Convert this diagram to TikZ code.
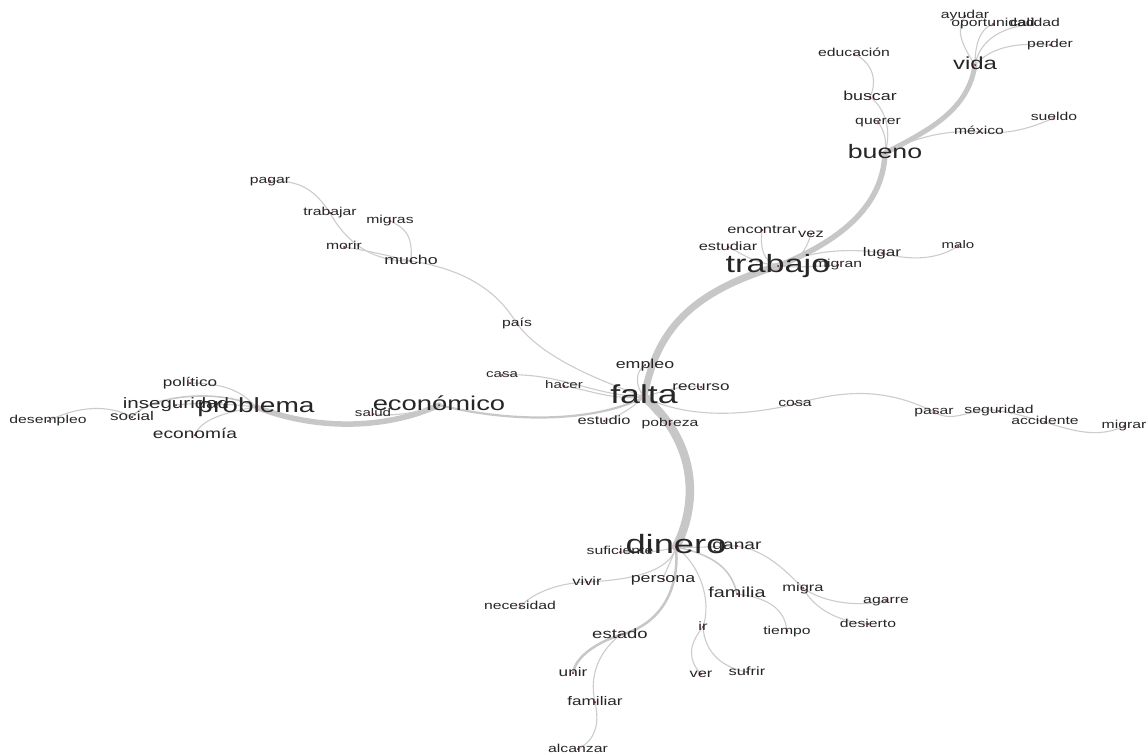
\documentclass[tikz,border=0pt]{standalone}
\usepackage{fontspec}
\setmainfont{Liberation Sans}
\pgfdeclarelayer{background}
\pgfsetlayers{background,main}
\newcommand\hs[1]{\scalebox{1.37}[1]{#1}}
\definecolor{dotred}{RGB}{120,10,10}
\tikzset{
  lbl/.style={anchor=center, inner sep=0pt, text height={0.52*#1}, text depth=0pt, text=black!85, font=\fontsize{#1}{#1}\selectfont},
  ed/.style={draw=black!20, line width=1.1pt, line cap=round},
  edw/.style={draw=black!22, line width=#1, line cap=round},
}
\begin{document}
\begin{tikzpicture}[x=1pt,y=-1pt]
\path[use as bounding box] (0,0) rectangle (1148,755);
% ---------- nodes ----------
\node[lbl=17.5] (vida) at (975,65) {\hs{vida}};
\node[lbl=11.5] (ayudar) at (965,16) {\hs{ayudar}};
\node[lbl=11.5] (oportunidad) at (993,24) {\hs{oportunidad}};
\node[lbl=11.5] (calidad) at (1035,24) {\hs{calidad}};
\node[lbl=11.5] (perder) at (1050,45) {\hs{perder}};
\node[lbl=11.5] (sueldo) at (1054,118) {\hs{sueldo}};
\node[lbl=11.5] (mexico) at (979,132) {\hs{méxico}};
\node[lbl=11.5] (educacion) at (854,54) {\hs{educación}};
\node[lbl=13] (buscar) at (870,97) {\hs{buscar}};
\node[lbl=11.5] (querer) at (878,122) {\hs{querer}};
\node[lbl=19.5] (bueno) at (885,153) {\hs{bueno}};
\node[lbl=12] (encontrar) at (762,230) {\hs{encontrar}};
\node[lbl=12] (vez) at (811,234) {\hs{vez}};
\node[lbl=12] (estudiar) at (728,247) {\hs{estudiar}};
\node[lbl=25] (trabajo) at (778,266) {\hs{trabajo}};
\node[lbl=11.5] (migran) at (838,265) {\hs{migran}};
\node[lbl=12.5] (lugar) at (882,253) {\hs{lugar}};
\node[lbl=11] (malo) at (958,246) {\hs{malo}};
\node[lbl=11.5] (pagar) at (270,181) {\hs{pagar}};
\node[lbl=11.5] (trabajar) at (330,213) {\hs{trabajar}};
\node[lbl=11.5] (migras) at (390,221) {\hs{migras}};
\node[lbl=11.5] (morir) at (344,247) {\hs{morir}};
\node[lbl=13] (mucho) at (411,261) {\hs{mucho}};
\node[lbl=11.5] (pais) at (517,324) {\hs{país}};
\node[lbl=13] (empleo) at (645,365) {\hs{empleo}};
\node[lbl=11] (casa) at (502,375) {\hs{casa}};
\node[lbl=11] (hacer) at (564,386) {\hs{hacer}};
\node[lbl=12.5] (recurso) at (701,387) {\hs{recurso}};
\node[lbl=26] (falta) at (644,397) {\hs{falta}};
\node[lbl=11.5] (cosa) at (795,404) {\hs{cosa}};
\node[lbl=11.5] (pasar) at (934,412) {\hs{pasar}};
\node[lbl=11.5] (seguridad) at (999,411) {\hs{seguridad}};
\node[lbl=11.5] (accidente) at (1045,422) {\hs{accidente}};
\node[lbl=11.5] (migrar) at (1124,426) {\hs{migrar}};
\node[lbl=12] (estudio) at (604,421) {\hs{estudio}};
\node[lbl=11.5] (pobreza) at (670,424) {\hs{pobreza}};
\node[lbl=20] (economico) at (439,405) {\hs{económico}};
\node[lbl=11] (salud) at (373,414) {\hs{salud}};
\node[lbl=20.5] (problema) at (256,407) {\hs{problema}};
\node[lbl=15] (inseguridad) at (176,405) {\hs{inseguridad}};
\node[lbl=12.5] (politico) at (190,383) {\hs{político}};
\node[lbl=12.5] (social) at (132,417) {\hs{social}};
\node[lbl=11.5] (desempleo) at (48,421) {\hs{desempleo}};
\node[lbl=14] (economia) at (195,435) {\hs{economía}};
\node[lbl=26.5] (dinero) at (676,547) {\hs{dinero}};
\node[lbl=11.5] (suficiente) at (620,552) {\hs{suficiente}};
\node[lbl=14] (ganar) at (737,546) {\hs{ganar}};
\node[lbl=12] (vivir) at (587,582) {\hs{vivir}};
\node[lbl=13] (persona) at (663,579) {\hs{persona}};
\node[lbl=11.5] (necesidad) at (520,607) {\hs{necesidad}};
\node[lbl=14.5] (familia) at (737,594) {\hs{familia}};
\node[lbl=12] (migra) at (803,588) {\hs{migra}};
\node[lbl=11.5] (agarre) at (886,601) {\hs{agarre}};
\node[lbl=11.5] (desierto) at (868,624) {\hs{desierto}};
\node[lbl=11.5] (tiempo) at (787,631) {\hs{tiempo}};
\node[lbl=12] (ir) at (703,627) {\hs{ir}};
\node[lbl=13.5] (estado) at (620,635) {\hs{estado}};
\node[lbl=12.5] (unir) at (573,673) {\hs{unir}};
\node[lbl=12] (ver) at (701,674) {\hs{ver}};
\node[lbl=12] (sufrir) at (747,672) {\hs{sufrir}};
\node[lbl=12.5] (familiar) at (595,702) {\hs{familiar}};
\node[lbl=11.5] (alcanzar) at (578,749) {\hs{alcanzar}};
% ---------- dots ----------
\foreach \n in {vida,ayudar,oportunidad,calidad,perder,sueldo,mexico,educacion,buscar,querer,bueno,encontrar,vez,estudiar,trabajo,migran,lugar,malo,pagar,trabajar,migras,morir,mucho,pais,empleo,casa,hacer,recurso,falta,cosa,pasar,seguridad,accidente,migrar,estudio,pobreza,economico,salud,problema,inseguridad,politico,social,desempleo,economia,dinero,suficiente,ganar,vivir,persona,necesidad,familia,migra,agarre,desierto,tiempo,ir,estado,unir,ver,sufrir,familiar,alcanzar}
  \fill[dotred] (\n.center) circle (1pt);
% ---------- edges ----------
\begin{pgfonlayer}{background}
\fill[white] (0,0) rectangle (1148,755);
% spine
\draw[edw=7pt] (falta.center) .. controls (655,340) and (680,295) .. (trabajo.center);
\draw[edw=5.5pt] (trabajo.center) .. controls (830,245) and (883,212) .. (bueno.center);
\draw[edw=5pt] (bueno.center) .. controls (930,130) and (968,110) .. (vida.center);
\draw[edw=8.5pt] (falta.center) .. controls (695,440) and (700,500) .. (dinero.center);
\draw[edw=2.2pt] (falta.center) .. controls (600,420) and (520,425) .. (economico.center);
\draw[edw=5.5pt] (economico.center) .. controls (390,428) and (320,432) .. (problema.center);
% problema
\draw[ed] (desempleo.center) .. controls (80,405) and (110,405) .. (social.center);
\draw[edw=1.6pt] (social.center) .. controls (150,395) and (220,388) .. (problema.center);
\draw[ed] (inseguridad.center) .. controls (200,402) and (230,404) .. (problema.center);
\draw[ed] (politico.center) .. controls (230,383) and (245,395) .. (problema.center);
\draw[ed] (economia.center) .. controls (200,420) and (225,412) .. (problema.center);
\draw[ed] (economico.center) .. controls (410,415) and (390,416) .. (salud.center);
% falta
\draw[ed] (falta.center) .. controls (600,380) and (545,360) .. (pais.center);
\draw[ed] (pais.center) .. controls (500,295) and (470,270) .. (mucho.center);
\draw[ed] (mucho.center) .. controls (370,262) and (345,240) .. (trabajar.center);
\draw[ed] (trabajar.center) .. controls (315,190) and (300,180) .. (pagar.center);
\draw[ed] (mucho.center) .. controls (385,255) and (365,250) .. (morir.center);
\draw[ed] (mucho.center) .. controls (413,235) and (405,228) .. (migras.center);
\draw[ed] (falta.center) .. controls (590,395) and (560,372) .. (casa.center);
\draw[ed] (falta.center) .. controls (610,400) and (590,390) .. (hacer.center);
\draw[ed] (falta.center) .. controls (635,385) and (635,372) .. (empleo.center);
\draw[ed] (falta.center) .. controls (660,392) and (680,385) .. (recurso.center);
\draw[ed] (falta.center) .. controls (690,420) and (750,415) .. (cosa.center);
\draw[ed] (cosa.center) .. controls (850,388) and (890,390) .. (pasar.center);
\draw[ed] (pasar.center) .. controls (955,425) and (975,405) .. (seguridad.center);
\draw[ed] (seguridad.center) .. controls (1015,413) and (1030,418) .. (accidente.center);
\draw[ed] (accidente.center) .. controls (1075,432) and (1100,438) .. (migrar.center);
\draw[ed] (falta.center) .. controls (630,410) and (615,418) .. (estudio.center);
\draw[ed] (falta.center) .. controls (650,410) and (660,420) .. (pobreza.center);
% trabajo
\draw[ed] (trabajo.center) .. controls (762,262) and (760,245) .. (encontrar.center);
\draw[ed] (trabajo.center) .. controls (750,262) and (740,252) .. (estudiar.center);
\draw[ed] (trabajo.center) .. controls (800,262) and (806,250) .. (vez.center);
\draw[ed] (trabajo.center) .. controls (810,250) and (850,248) .. (lugar.center);
\draw[ed] (lugar.center) .. controls (915,262) and (940,258) .. (malo.center);
\draw[ed] (trabajo.center) .. controls (800,268) and (820,266) .. (migran.center);
% bueno
\draw[ed] (bueno.center) .. controls (892,130) and (885,108) .. (buscar.center);
\draw[ed] (buscar.center) .. controls (878,80) and (872,62) .. (educacion.center);
\draw[ed] (bueno.center) .. controls (887,140) and (884,130) .. (querer.center);
\draw[ed] (bueno.center) .. controls (920,135) and (950,130) .. (mexico.center);
\draw[ed] (mexico.center) .. controls (1010,135) and (1030,128) .. (sueldo.center);
% vida
\draw[ed] (vida.center) .. controls (962,45) and (955,30) .. (ayudar.center);
\draw[ed] (vida.center) .. controls (975,40) and (982,28) .. (oportunidad.center);
\draw[ed] (vida.center) .. controls (980,38) and (1005,26) .. (calidad.center);
\draw[ed] (vida.center) .. controls (990,48) and (1015,42) .. (perder.center);
% dinero
\draw[ed] (dinero.center) .. controls (660,552) and (640,553) .. (suficiente.center);
\draw[ed] (dinero.center) .. controls (700,548) and (720,546) .. (ganar.center);
\draw[ed] (ganar.center) .. controls (765,550) and (785,570) .. (migra.center);
\draw[ed] (migra.center) .. controls (820,600) and (850,608) .. (agarre.center);
\draw[ed] (migra.center) .. controls (815,610) and (840,622) .. (desierto.center);
\draw[edw=1.5pt] (dinero.center) .. controls (715,555) and (732,570) .. (familia.center);
\draw[ed] (familia.center) .. controls (770,598) and (785,610) .. (tiempo.center);
\draw[ed] (dinero.center) .. controls (700,565) and (712,600) .. (ir.center);
\draw[ed] (ir.center) .. controls (688,645) and (688,660) .. (ver.center);
\draw[ed] (ir.center) .. controls (705,655) and (725,668) .. (sufrir.center);
\draw[ed] (dinero.center) .. controls (672,560) and (666,570) .. (persona.center);
\draw[ed] (dinero.center) .. controls (670,572) and (630,580) .. (vivir.center);
\draw[ed] (vivir.center) .. controls (555,583) and (530,595) .. (necesidad.center);
\draw[edw=2.5pt] (dinero.center) .. controls (680,590) and (660,625) .. (estado.center);
\draw[edw=2.5pt] (estado.center) .. controls (590,645) and (575,660) .. (unir.center);
\draw[ed] (estado.center) .. controls (595,655) and (590,680) .. (familiar.center);
\draw[ed] (familiar.center) .. controls (600,725) and (595,740) .. (alcanzar.center);
\end{pgfonlayer}
\end{tikzpicture}
\end{document}
